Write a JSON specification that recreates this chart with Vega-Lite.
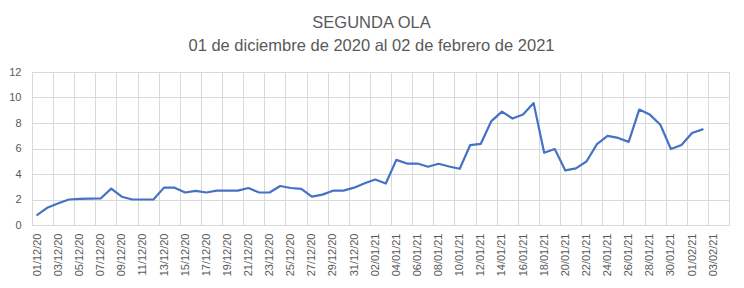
{
  "$schema": "https://vega.github.io/schema/vega-lite/v6.json",
  "autosize": {"type": "none"},
  "width": 697,
  "height": 153,
  "padding": {"left": 32, "top": 72, "right": 15, "bottom": 63},
  "background": "white",
  "config": {
    "view": {"stroke": "#D9D9D9", "strokeWidth": 1},
    "font": "Liberation Sans"
  },
  "title": {
    "text": ["SEGUNDA OLA", "01 de diciembre de 2020 al 02 de febrero de 2021"],
    "fontSize": 16.5,
    "lineHeight": 23,
    "font": "Liberation Sans",
    "fontWeight": "normal",
    "color": "#595959",
    "anchor": "middle",
    "dx": -9,
    "offset": 12
  },
  "data": {
    "values": [
      {"fecha": "2020-12-01", "valor": 0.8},
      {"fecha": "2020-12-02", "valor": 1.38},
      {"fecha": "2020-12-03", "valor": 1.7},
      {"fecha": "2020-12-04", "valor": 2.0},
      {"fecha": "2020-12-05", "valor": 2.05},
      {"fecha": "2020-12-06", "valor": 2.07},
      {"fecha": "2020-12-07", "valor": 2.08},
      {"fecha": "2020-12-08", "valor": 2.85},
      {"fecha": "2020-12-09", "valor": 2.22},
      {"fecha": "2020-12-10", "valor": 2.0},
      {"fecha": "2020-12-11", "valor": 2.0},
      {"fecha": "2020-12-12", "valor": 2.0},
      {"fecha": "2020-12-13", "valor": 2.93},
      {"fecha": "2020-12-14", "valor": 2.93},
      {"fecha": "2020-12-15", "valor": 2.55},
      {"fecha": "2020-12-16", "valor": 2.68},
      {"fecha": "2020-12-17", "valor": 2.55},
      {"fecha": "2020-12-18", "valor": 2.69},
      {"fecha": "2020-12-19", "valor": 2.7},
      {"fecha": "2020-12-20", "valor": 2.7},
      {"fecha": "2020-12-21", "valor": 2.9},
      {"fecha": "2020-12-22", "valor": 2.55},
      {"fecha": "2020-12-23", "valor": 2.55},
      {"fecha": "2020-12-24", "valor": 3.06},
      {"fecha": "2020-12-25", "valor": 2.9},
      {"fecha": "2020-12-26", "valor": 2.83},
      {"fecha": "2020-12-27", "valor": 2.22},
      {"fecha": "2020-12-28", "valor": 2.38},
      {"fecha": "2020-12-29", "valor": 2.69},
      {"fecha": "2020-12-30", "valor": 2.7},
      {"fecha": "2020-12-31", "valor": 2.93},
      {"fecha": "2021-01-01", "valor": 3.27},
      {"fecha": "2021-01-02", "valor": 3.57},
      {"fecha": "2021-01-03", "valor": 3.25},
      {"fecha": "2021-01-04", "valor": 5.11},
      {"fecha": "2021-01-05", "valor": 4.82},
      {"fecha": "2021-01-06", "valor": 4.82},
      {"fecha": "2021-01-07", "valor": 4.57},
      {"fecha": "2021-01-08", "valor": 4.8},
      {"fecha": "2021-01-09", "valor": 4.59},
      {"fecha": "2021-01-10", "valor": 4.41},
      {"fecha": "2021-01-11", "valor": 6.27},
      {"fecha": "2021-01-12", "valor": 6.37},
      {"fecha": "2021-01-13", "valor": 8.15},
      {"fecha": "2021-01-14", "valor": 8.89},
      {"fecha": "2021-01-15", "valor": 8.35},
      {"fecha": "2021-01-16", "valor": 8.66},
      {"fecha": "2021-01-17", "valor": 9.56},
      {"fecha": "2021-01-18", "valor": 5.67},
      {"fecha": "2021-01-19", "valor": 5.96},
      {"fecha": "2021-01-20", "valor": 4.28},
      {"fecha": "2021-01-21", "valor": 4.44},
      {"fecha": "2021-01-22", "valor": 4.98},
      {"fecha": "2021-01-23", "valor": 6.34},
      {"fecha": "2021-01-24", "valor": 6.99},
      {"fecha": "2021-01-25", "valor": 6.83},
      {"fecha": "2021-01-26", "valor": 6.52},
      {"fecha": "2021-01-27", "valor": 9.05},
      {"fecha": "2021-01-28", "valor": 8.66},
      {"fecha": "2021-01-29", "valor": 7.86},
      {"fecha": "2021-01-30", "valor": 5.96},
      {"fecha": "2021-01-31", "valor": 6.27},
      {"fecha": "2021-02-01", "valor": 7.22},
      {"fecha": "2021-02-02", "valor": 7.5}
    ]
  },
  "mark": {"type": "line", "color": "#4472C4", "strokeWidth": 2.2, "strokeJoin": "round", "strokeCap": "round"},
  "encoding": {
    "x": {
      "field": "fecha",
      "type": "temporal",
      "scale": {
        "type": "utc",
        "domain": [
          {"year": 2020, "month": 11, "date": 30, "hours": 12, "utc": true},
          {"year": 2021, "month": 2, "date": 4, "hours": 12, "utc": true}
        ]
      },
      "axis": {
        "title": null,
        "values": [
          {"year": 2020, "month": 12, "date": 1, "utc": true},
          {"year": 2020, "month": 12, "date": 3, "utc": true},
          {"year": 2020, "month": 12, "date": 5, "utc": true},
          {"year": 2020, "month": 12, "date": 7, "utc": true},
          {"year": 2020, "month": 12, "date": 9, "utc": true},
          {"year": 2020, "month": 12, "date": 11, "utc": true},
          {"year": 2020, "month": 12, "date": 13, "utc": true},
          {"year": 2020, "month": 12, "date": 15, "utc": true},
          {"year": 2020, "month": 12, "date": 17, "utc": true},
          {"year": 2020, "month": 12, "date": 19, "utc": true},
          {"year": 2020, "month": 12, "date": 21, "utc": true},
          {"year": 2020, "month": 12, "date": 23, "utc": true},
          {"year": 2020, "month": 12, "date": 25, "utc": true},
          {"year": 2020, "month": 12, "date": 27, "utc": true},
          {"year": 2020, "month": 12, "date": 29, "utc": true},
          {"year": 2020, "month": 12, "date": 31, "utc": true},
          {"year": 2021, "month": 1, "date": 2, "utc": true},
          {"year": 2021, "month": 1, "date": 4, "utc": true},
          {"year": 2021, "month": 1, "date": 6, "utc": true},
          {"year": 2021, "month": 1, "date": 8, "utc": true},
          {"year": 2021, "month": 1, "date": 10, "utc": true},
          {"year": 2021, "month": 1, "date": 12, "utc": true},
          {"year": 2021, "month": 1, "date": 14, "utc": true},
          {"year": 2021, "month": 1, "date": 16, "utc": true},
          {"year": 2021, "month": 1, "date": 18, "utc": true},
          {"year": 2021, "month": 1, "date": 20, "utc": true},
          {"year": 2021, "month": 1, "date": 22, "utc": true},
          {"year": 2021, "month": 1, "date": 24, "utc": true},
          {"year": 2021, "month": 1, "date": 26, "utc": true},
          {"year": 2021, "month": 1, "date": 28, "utc": true},
          {"year": 2021, "month": 1, "date": 30, "utc": true},
          {"year": 2021, "month": 2, "date": 1, "utc": true},
          {"year": 2021, "month": 2, "date": 3, "utc": true}
        ],
        "labelExpr": "utcFormat(datum.value, '%d/%m/%y')",
        "labelAngle": -90,
        "labelFontSize": 11,
        "labelColor": "#595959",
        "labelPadding": 8,
        "labelFont": "Liberation Sans",
        "labelOverlap": false,
        "labelBound": false,
        "labelFlush": false,
        "ticks": false,
        "tickOffset": -5.28,
        "labelOffset": 5.28,
        "grid": true,
        "gridColor": "#D9D9D9",
        "gridWidth": 1,
        "domain": true,
        "domainColor": "#D9D9D9",
        "domainWidth": 1
      }
    },
    "y": {
      "field": "valor",
      "type": "quantitative",
      "scale": {"domain": [0, 12], "nice": false, "zero": true},
      "axis": {
        "title": null,
        "values": [0, 2, 4, 6, 8, 10, 12],
        "labelFontSize": 11,
        "labelColor": "#595959",
        "labelFont": "Liberation Sans",
        "labelPadding": 11,
        "ticks": false,
        "domain": false,
        "grid": true,
        "gridColor": "#D9D9D9",
        "gridWidth": 1
      }
    }
  }
}
